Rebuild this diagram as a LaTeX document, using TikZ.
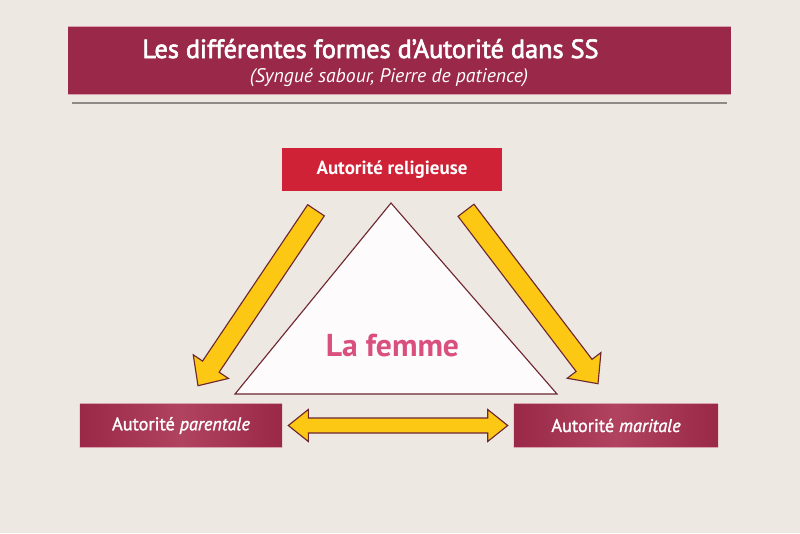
\documentclass[tikz,border=0pt]{standalone}
\usepackage{fontspec}
\setmainfont{PT Sans}
\newfontfamily\semib[FakeBold=2.5]{PT Sans}
\newfontfamily\demib[FakeBold=1.5]{PT Sans}
\usetikzlibrary{calc,positioning}
\definecolor{fond}{HTML}{EDE8E2}
\definecolor{crimson}{HTML}{9A2848}
\definecolor{crimsonl}{HTML}{B0435F}
\definecolor{rosepale}{HTML}{D9A0B0}
\definecolor{rouge}{HTML}{D02236}
\definecolor{jaune}{HTML}{FCC813}
\definecolor{brun}{HTML}{6E2630}
\definecolor{rose}{HTML}{D9507E}
\definecolor{gris}{HTML}{8E8A88}
\begin{document}
\begin{tikzpicture}[x=0.025cm,y=-0.025cm]
  \tikzstyle{every node}=[inner sep=0pt,text=white]
  \tikzstyle{bandeau}=[fill=crimson,minimum width=16.575cm,minimum height=1.675cm]
  \tikzstyle{autorite}=[minimum height=1.075cm,font=\fontsize{13}{15}\demib]
  \tikzstyle{lateral}=[autorite,left color=crimson,right color=crimson,middle color=crimsonl]
  \tikzstyle{fleche}=[fill=jaune,draw=brun,line width=0.8pt,line join=miter]
  \fill[fond] (0,0) rectangle (800,533);
  \useasboundingbox (0,0) rectangle (800,533);
  % title
  \node[bandeau] (titre) at (399.5,60.5) {};
  \node[anchor=base,font=\fontsize{18.7}{22}\semib] (t1) at (370.5,58) {Les différentes formes d’Autorité dans SS};
  \node[anchor=base,font=\fontsize{14}{16}\selectfont\itshape] (t2) at (389,82) {(Syngué sabour, Pierre de patience)};
  \draw[gris,line width=1.4pt] (72,103) -- (727,103);
  % the three authorities
  \node[autorite,fill=rouge,minimum width=5.5cm,font=\fontsize{13.5}{15}\selectfont\bfseries] (rel) at (392,169.5) {Autorité religieuse\hspace{8pt}};
  \node[lateral,minimum width=5.05cm] (par) at (181,425.5) {Autorité \textit{parentale}};
  \node[lateral,minimum width=5.1cm] (mar) at (616,425.5) {Autorité \textit{maritale}};
  \foreach \b in {titre,par,mar}
    \draw[rosepale,line width=0.6pt] (\b.north west) -- (\b.north east) (\b.south west) -- (\b.south east);
  % the triangle
  \draw[brun,fill=white!98!rose,line width=0.8pt] (391,203) -- (557,394) -- (235,394) -- cycle;
  \node[anchor=base,text=rose,font=\fontsize{22.5}{26}\selectfont\bfseries] (femme) at (392.5,356) {La femme};
  % arrows
  \coordinate (ta) at ($(rel.south)+(-76,19)$);
  \coordinate (pa) at ($(par.north)+(17,-18)$);
  \coordinate (tb) at ($(rel.south)+(74,19)$);
  \coordinate (pb) at ($(mar.north)+(-18,-20)$);
  \foreach \a/\b in {ta/pa,tb/pb}{
    \coordinate (h) at ($(\b)!0.575cm!(\a)$);
    \draw[fleche] ($(\a)!0.25cm!90:(\b)$) -- ($(h)!0.25cm!90:(\b)$) -- ($(h)!0.53cm!90:(\b)$)
      -- (\b) -- ($(h)!0.53cm!-90:(\b)$) -- ($(h)!0.25cm!-90:(\b)$) -- ($(\a)!0.25cm!-90:(\b)$) -- cycle;
  }
  \coordinate (dl) at ($(par.east)+(6,0)$);
  \coordinate (dr) at ($(mar.west)+(-6,0)$);
  \draw[fleche] (dl) -- ($(dl)+(20,-16)$) -- ($(dl)+(20,-7.5)$) -- ($(dr)+(-20,-7.5)$) -- ($(dr)+(-20,-16)$)
    -- (dr) -- ($(dr)+(-20,16)$) -- ($(dr)+(-20,7.5)$) -- ($(dl)+(20,7.5)$) -- ($(dl)+(20,16)$) -- cycle;
\end{tikzpicture}
\end{document}
